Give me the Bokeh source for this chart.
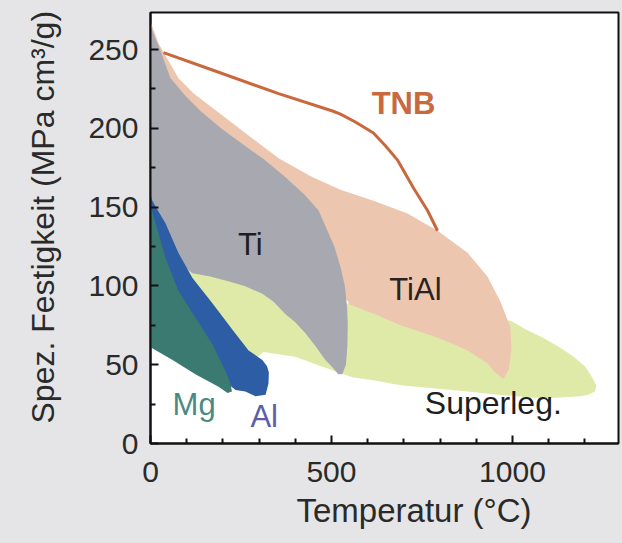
from bokeh.plotting import figure
from bokeh.models import FixedTicker, Label, Range1d, Title
from bokeh.embed import file_html
from bokeh.resources import INLINE

# ---------------- data ----------------
X_MAJOR = [0, 500, 1000]
X_MINOR = [100, 200, 300, 400, 600, 700, 800, 900, 1100, 1200]
Y_MAJOR = [0, 50, 100, 150, 200, 250]
Y_MINOR = [25, 75, 125, 175, 225]

SUPER_X = [100, 215, 309, 373, 428, 483, 552, 700, 850, 994, 1040, 1086, 1130, 1169, 1200, 1215, 1232,
           1228, 1210, 1188, 1120, 1058, 960, 876, 780, 691, 620, 558, 483, 400, 312, 270, 200]
SUPER_Y = [110, 110, 100, 92, 85, 80, 90, 85, 82, 78, 72, 67, 61, 55, 49, 44, 37,
           33, 31, 30, 29, 29, 31, 33, 35, 37, 40, 42, 48, 55, 58, 50, 60]

TIAL_X = [0, 22, 77, 120, 171, 262, 354, 448, 525, 616, 710, 793, 876, 931, 967, 994, 997, 990,
          975, 948, 931, 876, 829, 782, 691, 620, 552, 450, 300, 100, 0]
TIAL_Y = [268, 254, 232, 222, 213, 197, 181, 169, 161, 154, 146, 135, 121, 106, 90, 74, 60, 47,
          41, 46, 51, 59, 64, 68, 75, 82, 88, 120, 150, 200, 220]

TI_X = [0, 5, 28, 55, 95, 138, 195, 254, 315, 373, 425, 464, 489, 508, 525, 537, 543, 545, 544, 540,
        530, 519, 500, 483, 455, 428, 400, 373, 340, 309, 260, 215, 165, 116, 60, 0]
TI_Y = [265, 262, 249, 232, 221, 211, 200, 190, 180, 169, 158, 148, 135, 125, 112, 100, 87, 76, 62, 50,
        44, 44, 49, 53, 62, 70, 77, 82, 90, 95, 100, 103, 106, 108, 118, 120]

AL_X = [0, 5, 20, 41, 77, 116, 171, 227, 271, 309, 322, 327, 326, 318, 290, 262, 235, 150, 0]
AL_Y = [158, 154, 148, 140, 121, 105, 89, 72, 59, 53, 49, 45, 38, 31, 30, 33, 34, 50, 70]

MG_X = [0, 14, 41, 77, 124, 171, 207, 221, 225, 213, 188, 124, 61, 0]
MG_Y = [151, 140, 118, 97, 80, 63, 46, 38, 33, 32, 36, 44, 53, 61]

TNB_X = [36, 171, 354, 503, 525, 566, 616, 649, 682, 727, 765, 793]
TNB_Y = [248, 237, 222, 211, 209, 204, 197, 189, 180, 162, 148, 135]

# ---------------- styling ----------------
BG = "#e5e5e7"
FONT = "Liberation Sans"
TXT = "#2a2a2a"

p = figure(width=622, height=543, output_backend="svg", toolbar_location=None,
           x_range=Range1d(0, 1293), y_range=Range1d(0, 273.5),
           min_border_left=150, min_border_top=12, min_border_bottom=100, min_border_right=4)
p.background_fill_color = "white"
p.border_fill_color = BG
p.outline_line_color = "#111111"
p.outline_line_width = 2
p.grid.visible = False

p.patch(SUPER_X, SUPER_Y, fill_color="#dfe9a8", line_color=None)
p.patch(TIAL_X, TIAL_Y, fill_color="#edc6b0", line_color=None)
p.patch(TI_X, TI_Y, fill_color="#a8a9b0", line_color=None)
p.patch(AL_X, AL_Y, fill_color="#2d5da4", line_color=None)
p.patch(MG_X, MG_Y, fill_color="#3a7a71", line_color=None)
p.line(TNB_X, TNB_Y, line_color="#c9683d", line_width=3)

for ax in (p.xaxis[0], p.yaxis[0]):
    ax.axis_line_color = "#111111"
    ax.axis_line_width = 2
    ax.major_tick_line_color = "#111111"
    ax.minor_tick_line_color = "#111111"
    ax.major_tick_line_width = 2
    ax.minor_tick_line_width = 2
    ax.major_tick_in = 8
    ax.major_tick_out = 0
    ax.minor_tick_in = 5
    ax.minor_tick_out = 0
    ax.major_label_text_font = FONT
    ax.major_label_text_font_size = "30px"
    ax.major_label_text_color = TXT

p.xaxis.ticker = FixedTicker(ticks=X_MAJOR, minor_ticks=X_MINOR)
p.yaxis.ticker = FixedTicker(ticks=Y_MAJOR, minor_ticks=Y_MINOR)
p.xaxis.major_label_standoff = 18
p.yaxis.major_label_standoff = 12

yt = Title(text="Spez. Festigkeit (MPa cm³/g)", align="left", offset=20, standoff=46,
           vertical_align="top",
           text_font=FONT, text_font_size="32px", text_font_style="normal", text_color=TXT)
p.add_layout(yt, "left")

xt = Title(text="Temperatur (°C)", align="left", offset=146, standoff=10,
           vertical_align="bottom", text_line_height=1.5,
           text_font=FONT, text_font_size="33px", text_font_style="normal", text_color=TXT)
p.add_layout(xt, "below")

def lab(x, y, t, color, align="center", style="normal", size="31px"):
    p.add_layout(Label(x=x, y=y, text=t, text_color=color, text_align=align,
                       text_baseline="middle", text_font=FONT, text_font_size=size,
                       text_font_style=style))

lab(699, 216, "TNB", "#c8693f", style="bold")
lab(276, 126, "Ti", "#1e1e1e")
lab(732, 98, "TiAl", "#2b2222")
lab(758, 26, "Superleg.", "#1e1e1e", align="left", size="32px")
lab(61, 25, "Mg", "#4a8a83", align="left")
lab(276, 17, "Al", "#5a5eac", align="left")

html = file_html(p, INLINE)
html = html.replace("</head>", "<style>html, body { background-color: %s; }</style></head>" % BG, 1)
open("out.html", "w").write(html)
